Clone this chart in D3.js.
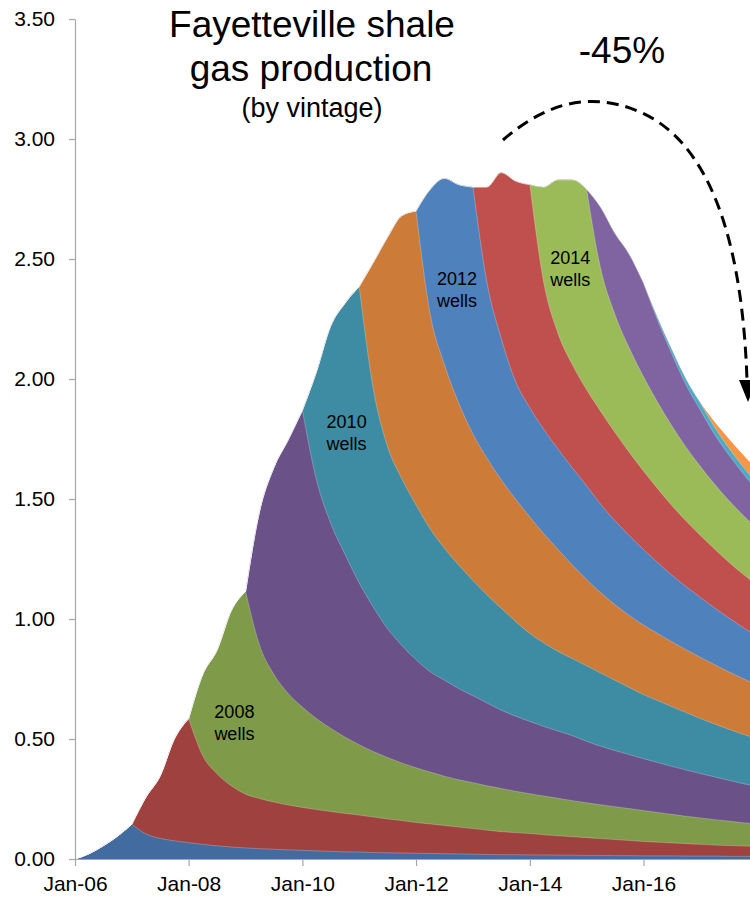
<!DOCTYPE html>
<html>
<head>
<meta charset="utf-8">
<script src="https://cdnjs.cloudflare.com/ajax/libs/d3/7.8.5/d3.min.js"></script>
<style>
  html, body { margin: 0; padding: 0; background: #fff; }
  svg { display: block; font-family: "Liberation Sans", Arial, sans-serif; }
</style>
</head>
<body>
<svg id="chart" width="750" height="897"></svg>
<script>
// Fayetteville shale gas production, stacked by well vintage (Bcf/d).
// Quarterly samples; each vintage array starts in January of its own year.
const vintages = ["2006", "2007", "2008", "2009", "2010", "2011",
                  "2012", "2013", "2014", "2015", "2016", "2017"];

const v2006 = [0, .022, .055, .095, .145, .105, .086, .076, .068, .061, .055, .050, .046,
  .043, .041, .038, .036, .034, .032, .030, .029, .027, .026, .025, .024, .023, .022,
  .021, .020, .019, .018, .018, .017, .017, .016, .016, .015, .015, .014, .014, .013,
  .013, .013, .012, .012, .012, .011, .011, .011];
const v2007 = [0, .152, .259, .424, .517, .369, .300, .255, .224, .209, .196, .187, .179,
  .172, .166, .160, .154, .148, .141, .135, .128, .123, .118, .112, .107, .101, .096,
  .092, .089, .084, .081, .077, .074, .070, .067, .063, .060, .057, .054, .052, .049,
  .046, .045, .043, .041];
const v2008 = [0, .34, .515, .73, .845, .638, .533, .465, .418, .379, .347, .318, .293,
  .273, .256, .24, .228, .216, .205, .197, .191, .185, .18, .172, .166, .161, .156,
  .15, .145, .141, .137, .133, .129, .124, .119, .114, .11, .106, .102, .097, .094];
const v2009 = [0, .56, .86, 1.056, 1.237, .995, .855, .762, .674, .602, .537, .49, .45,
  .418, .40, .38, .362, .345, .326, .313, .301, .29, .28, .271, .256, .244, .234, .225,
  .216, .208, .20, .193, .185, .178, .17, .163, .155];
const v2010 = [0, .45, .82, 1.045, 1.235, .91, .76, .695, .645, .595, .55, .515, .48, .45,
  .425, .395, .367, .348, .332, .321, .315, .305, .293, .28, .267, .258, .249, .239,
  .229, .221, .213, .206, .199];
const v2011 = [0, .525, .87, 1.095, 1.225, .895, .765, .675, .61, .57, .535, .51, .485,
  .455, .425, .39, .36, .335, .315, .30, .29, .28, .27, .262, .255, .247, .239, .232, .225];
const v2012 = [0, .52, .776, .91, 1.03, .73, .59, .49, .455, .435, .418, .405, .39, .368,
  .35, .333, .315, .295, .278, .263, .25, .237, .225, .213, .202];
const v2013 = [0, .40, .69, .835, .93, .61, .482, .43, .40, .387, .368, .347, .327, .308,
  .29, .273, .258, .245, .233, .222, .213];
const v2014 = [0, .40, .64, .77, .835, .595, .492, .435, .393, .36, .332, .307, .287, .27,
  .257, .246, .235];
const v2015 = [0, .255, .337, .39, .39, .342, .30, .26, .235, .208, .19, .174, .16];
const v2016 = [0, .01, .018, .024, .03, .03, .029, .028, .027];
const v2017 = [0, .022, .038, .05, .058];

const series = [v2006, v2007, v2008, v2009, v2010, v2011,
                v2012, v2013, v2014, v2015, v2016, v2017];

const colors = ["#426C9F", "#9F413F", "#7F9A48", "#6A5188", "#3D8CA3", "#CC7B39",
                "#4F81BD", "#C0504D", "#9BBB59", "#8064A2", "#4BACC6", "#F79646"];

const yTicks = [0, 0.5, 1.0, 1.5, 2.0, 2.5, 3.0, 3.5];
const xTickYears = [2006, 2008, 2010, 2012, 2014, 2016];

const vintageLabels = [
  { year: "2008", date: new Date(2008, 9, 21), value: 0.5875 },
  { year: "2010", date: new Date(2010, 9, 12), value: 1.795 },
  { year: "2012", date: new Date(2012, 8, 20), value: 2.392 },
  { year: "2014", date: new Date(2014, 8, 17), value: 2.478 }
];

// ---- layout -------------------------------------------------------------
const svg = d3.select("#chart");
const x = d3.scaleTime()
  .domain([new Date(2006, 0, 1), new Date(2018, 0, 1)])
  .range([75, 757.25]);
const y = d3.scaleLinear().domain([0, 3.5]).range([859, 19]);

// one row per quarter, each vintage zero before its first year
const perYear = 4;
const nQuarters = v2006.length;
const rows = d3.range(nQuarters).map(i => {
  const row = { date: new Date(2006, i * 3, 1) };
  vintages.forEach((v, k) => {
    const off = k * perYear;
    row[v] = i >= off ? series[k][i - off] : 0;
  });
  return row;
});

const stacked = d3.stack().keys(vintages)(rows);

// Cumulative edge of vintage k: while vintages up to k are still being
// added, it turns sharply every January; afterwards it only declines.
// Draw it as monotone pieces split at those Januaries.
const edge = d3.line()
  .x(d => x(d.data.date))
  .y(d => y(d[1]))
  .curve(d3.curveMonotoneX);

function topEdge(layer, k) {
  const last = layer.length - 1;
  const cuts = [];
  for (let j = 0; j <= Math.min(perYear * (k + 1), last); j += perYear) cuts.push(j);
  if (cuts[cuts.length - 1] !== last) cuts.push(last);
  let s = "";
  for (let c = 0; c + 1 < cuts.length; c++) {
    const piece = edge(layer.slice(cuts[c], cuts[c + 1] + 1));
    s += c === 0 ? piece : "L" + piece.slice(1);
  }
  return s;
}

const layers = svg.append("g");
// paint the largest cumulative total first, each layer filled down to zero
stacked.slice().reverse().forEach(layer => {
  const first = layer[0], last = layer[layer.length - 1];
  layers.append("path")
    .attr("fill", colors[layer.index])
    .attr("d", topEdge(layer, layer.index) +
      `L${x(last.data.date)},${y(0)}L${x(first.data.date)},${y(0)}Z`);
});

// faint seams between vintages
stacked.slice(0, -1).forEach(layer => {
  layers.append("path")
    .attr("fill", "none")
    .attr("stroke", "#ffffff")
    .attr("stroke-opacity", 0.35)
    .attr("stroke-width", 0.7)
    .attr("d", topEdge(layer, layer.index));
});

// ---- axes ---------------------------------------------------------------
const axisColor = "#A6A6A6";
const tickFont = '"Liberation Sans", Arial, sans-serif';

const yAxis = svg.append("g")
  .attr("transform", "translate(75,0)")
  .call(d3.axisLeft(y).tickValues(yTicks).tickFormat(d3.format(".2f"))
    .tickSize(6).tickSizeOuter(0).tickPadding(14));
yAxis.select(".domain").attr("stroke", axisColor).attr("stroke-width", 1.2);
yAxis.selectAll(".tick line").attr("stroke", axisColor).attr("stroke-width", 1.2);
yAxis.selectAll(".tick text")
  .attr("fill", "#000").style("font-size", "21px").style("font-family", tickFont);

const xAxis = svg.append("g")
  .attr("transform", "translate(0,859)")
  .call(d3.axisBottom(x).tickValues(xTickYears.map(yr => new Date(yr, 0, 1)))
    .tickFormat(d3.timeFormat("%b-%y")).tickSize(7).tickSizeOuter(0));
xAxis.select(".domain").attr("stroke", axisColor).attr("stroke-width", 1.2);
xAxis.selectAll(".tick line").attr("stroke", axisColor).attr("stroke-width", 1.2);
xAxis.selectAll(".tick text")
  .attr("fill", "#000").attr("y", 32).attr("dy", 0)
  .style("font-size", "21px").style("font-family", tickFont);

// ---- vintage labels -----------------------------------------------------
const lab = svg.append("g")
  .attr("font-size", 18).attr("fill", "#000").attr("text-anchor", "middle");
vintageLabels.forEach(l => {
  const t = lab.append("text")
    .attr("x", x(l.date)).attr("y", y(l.value));
  t.append("tspan").attr("x", x(l.date)).attr("dy", 0).text(l.year);
  t.append("tspan").attr("x", x(l.date)).attr("dy", 22).text("wells");
});

// ---- title --------------------------------------------------------------
const title = svg.append("g").attr("text-anchor", "middle").attr("fill", "#000");
title.append("text").attr("x", 312).attr("y", 37).attr("font-size", 37)
  .text("Fayetteville shale");
title.append("text").attr("x", 311).attr("y", 81).attr("font-size", 37)
  .text("gas production");
title.append("text").attr("x", 312).attr("y", 117).attr("font-size", 27)
  .text("(by vintage)");

// ---- decline annotation -------------------------------------------------
svg.append("text")
  .attr("x", 622).attr("y", 63).attr("text-anchor", "middle")
  .attr("font-size", 37).attr("fill", "#000")
  .text("-45%");

svg.append("path")
  .attr("d", "M503,140 C540,108 585,88 640,112 C705,140 742,230 747,380")
  .attr("fill", "none")
  .attr("stroke", "#000")
  .attr("stroke-width", 3)
  .attr("stroke-dasharray", "12,7");
svg.append("path")
  .attr("d", "M739,380 L757,380 L748,402 Z")
  .attr("fill", "#000");
</script>
</body>
</html>
